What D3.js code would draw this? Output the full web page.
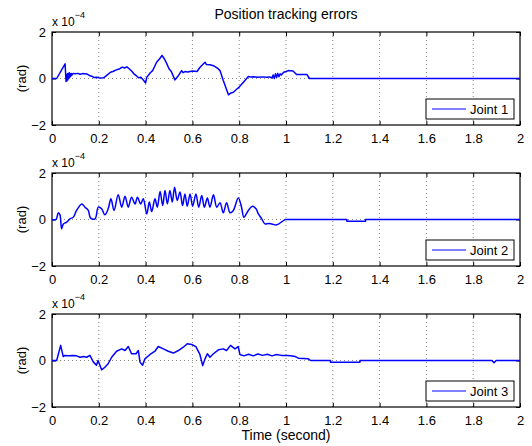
<!DOCTYPE html>
<html>
<head>
<meta charset="utf-8">
<script src="https://d3js.org/d3.v7.min.js"></script>
<style>
  body { margin: 0; background: #fff; }
  text { font-family: "Liberation Sans", Arial, Helvetica, sans-serif; fill: #000; }
</style>
</head>
<body>
<svg width="532" height="446"></svg>
<script>
// values are in units of 1e-4 rad, time in seconds
const joint1 = [[0,0],[0.02,0],[0.056,0.63],[0.06,-0.13],[0.062,0.15],[0.064,-0.1],[0.066,0.2],[0.068,-0.05],[0.07,0.22],[0.072,0.0],[0.074,0.25],[0.076,0.05],[0.078,0.2],[0.08,0.1],[0.082,0.22],[0.085,0.15],[0.09,0.22],[0.1,0.2],[0.11,0.22],[0.12,0.18],[0.13,0.21],[0.14,0.2],[0.15,0.19],[0.16,0.13],[0.17,0.1],[0.18,0.04],[0.19,0.05],[0.2,0.03],[0.21,0.02],[0.22,0.03],[0.23,0.1],[0.25,0.27],[0.26,0.3],[0.28,0.39],[0.29,0.42],[0.30,0.49],[0.31,0.45],[0.32,0.5],[0.33,0.42],[0.34,0.32],[0.35,0.2],[0.36,0.12],[0.37,0.03],[0.38,0.05],[0.39,-0.06],[0.40,-0.19],[0.405,0.05],[0.42,0.25],[0.43,0.34],[0.44,0.55],[0.447,0.7],[0.46,0.85],[0.47,0.99],[0.48,0.85],[0.49,0.65],[0.50,0.42],[0.51,0.3],[0.525,-0.06],[0.54,0.12],[0.554,0.34],[0.56,0.25],[0.568,0.3],[0.58,0.28],[0.6,0.32],[0.62,0.3],[0.63,0.45],[0.64,0.56],[0.654,0.7],[0.66,0.6],[0.675,0.59],[0.69,0.55],[0.70,0.49],[0.71,0.42],[0.718,0.34],[0.732,-0.09],[0.754,-0.7],[0.765,-0.62],[0.775,-0.59],[0.79,-0.45],[0.80,-0.37],[0.818,-0.16],[0.839,0.09],[0.85,0.06],[0.86,0.08],[0.88,0.05],[0.9,0.07],[0.92,0.05],[0.93,0.07],[0.94,0.02],[0.945,0.15],[0.95,0.0],[0.955,0.2],[0.96,0.05],[0.965,0.22],[0.97,0.08],[0.975,0.2],[0.98,0.15],[0.99,0.27],[1.0,0.3],[1.01,0.34],[1.03,0.32],[1.045,0.17],[1.09,0.17],[1.1,0],[2,0]];

const joint2 = [[0,0],[0.017,0],[0.027,0.29],[0.034,0.2],[0.041,-0.4],[0.048,-0.2],[0.063,-0.11],[0.077,0.03],[0.091,0.1],[0.105,0.39],[0.127,0.67],[0.141,0.53],[0.155,0.39],[0.165,0.06],[0.184,0.03],[0.198,0.53],[0.212,0.46],[0.226,0.2],[0.24,0.46],[0.252,0.89],[0.265,0.39],[0.283,1.06],[0.298,0.53],[0.312,1.0],[0.326,0.53],[0.34,0.96],[0.355,0.67],[0.365,0.96],[0.379,0.67],[0.39,0.89],[0.405,0.24],[0.416,0.75],[0.426,0.34],[0.44,0.89],[0.45,0.53],[0.462,1.2],[0.473,0.6],[0.483,1.25],[0.493,0.67],[0.504,1.25],[0.514,0.75],[0.524,1.39],[0.535,0.82],[0.547,1.18],[0.558,0.6],[0.568,1.1],[0.578,0.57],[0.59,1.1],[0.601,0.57],[0.615,1.1],[0.627,0.53],[0.64,1.03],[0.651,0.53],[0.664,0.92],[0.675,0.53],[0.69,1.06],[0.704,0.53],[0.718,0.72],[0.732,0.29],[0.746,0.72],[0.761,0.29],[0.775,0.39],[0.796,0.92],[0.81,0.53],[0.82,0.1],[0.839,0.39],[0.856,0.57],[0.872,0.46],[0.882,0.24],[0.896,0.03],[0.91,-0.19],[0.925,-0.17],[0.939,-0.19],[0.96,-0.23],[0.98,-0.11],[0.996,0],[1.26,0],[1.26,-0.07],[1.34,-0.07],[1.34,0],[2,0]];

const joint3 = [[0,0],[0.02,0],[0.037,0.65],[0.048,0.17],[0.055,0.22],[0.07,0.2],[0.09,0.22],[0.105,0.2],[0.12,0.14],[0.135,0.17],[0.148,0.14],[0.162,0.22],[0.177,-0.07],[0.19,-0.2],[0.197,0.0],[0.212,-0.4],[0.226,-0.29],[0.24,-0.14],[0.255,0.14],[0.276,0.4],[0.298,0.5],[0.312,0.43],[0.326,0.6],[0.34,0.29],[0.359,0.29],[0.369,0.43],[0.376,-0.07],[0.387,-0.2],[0.397,0.07],[0.419,0.26],[0.44,0.4],[0.454,0.6],[0.476,0.5],[0.497,0.4],[0.519,0.32],[0.54,0.43],[0.561,0.57],[0.578,0.72],[0.597,0.69],[0.615,0.6],[0.632,0.26],[0.644,-0.22],[0.654,0.07],[0.664,0.29],[0.675,0.14],[0.69,0.29],[0.711,0.46],[0.732,0.5],[0.746,0.43],[0.763,0.65],[0.782,0.5],[0.796,0.6],[0.803,0.26],[0.82,0.2],[0.84,0.27],[0.86,0.2],[0.88,0.28],[0.9,0.22],[0.92,0.27],[0.94,0.2],[0.96,0.26],[0.98,0.22],[1.003,0.21],[1.02,0.2],[1.04,0.17],[1.053,0.1],[1.095,0.07],[1.105,0],[1.19,0],[1.19,-0.07],[1.316,-0.07],[1.316,0],[1.88,0],[1.889,-0.1],[1.898,0],[2,0]];

const series = [joint1, joint2, joint3];
const legendLabels = ["Joint 1", "Joint 2", "Joint 3"];
const xTicks = [0, 0.2, 0.4, 0.6, 0.8, 1, 1.2, 1.4, 1.6, 1.8, 2];
const yTicks = [-2, 0, 2];
const panelTops = [32, 173, 314];

const svg = d3.select("svg");
const left = 52, right = 520, ph = 93;

const x = d3.scaleLinear().domain([0, 2]).range([left, right]);

svg.append("text")
  .attr("x", (left + right) / 2)
  .attr("y", 19)
  .attr("text-anchor", "middle")
  .style("font-size", "14px")
  .text("Position tracking errors");

series.forEach(function(data, i) {
  const top = panelTops[i];
  const y = d3.scaleLinear().domain([-2, 2]).range([top + ph, top]);
  const g = svg.append("g");

  // dotted grid
  g.selectAll(".vgrid")
    .data(xTicks.slice(1, -1))
    .enter().append("line")
      .attr("x1", d => x(d)).attr("x2", d => x(d))
      .attr("y1", top).attr("y2", top + ph)
      .attr("stroke", "#555").attr("stroke-width", 0.7)
      .attr("stroke-dasharray", "1,3");
  g.append("line")
    .attr("x1", left).attr("x2", right)
    .attr("y1", y(0)).attr("y2", y(0))
    .attr("stroke", "#555").attr("stroke-width", 0.7)
    .attr("stroke-dasharray", "1,3");

  // axes with inward ticks
  const xb = g.append("g").attr("transform", "translate(0," + (top + ph) + ")")
    .call(d3.axisBottom(x).tickValues(xTicks).tickSizeInner(-4).tickSizeOuter(0).tickPadding(6)
      .tickFormat(d3.format("~g")));
  const xt = g.append("g").attr("transform", "translate(0," + top + ")")
    .call(d3.axisTop(x).tickValues(xTicks).tickSizeInner(-4).tickSizeOuter(0).tickFormat(""));
  const yl = g.append("g").attr("transform", "translate(" + left + ",0)")
    .call(d3.axisLeft(y).tickValues(yTicks).tickSizeInner(-4).tickSizeOuter(0).tickPadding(6)
      .tickFormat(d3.format("d")));
  const yr = g.append("g").attr("transform", "translate(" + right + ",0)")
    .call(d3.axisRight(y).tickValues(yTicks).tickSizeInner(-4).tickSizeOuter(0).tickFormat(""));
  [xb, xt, yl, yr].forEach(a => {
    a.select(".domain").remove();
    a.selectAll("text").style("font-size", "13px").attr("font-family", null);
    a.selectAll("line").attr("stroke", "#000");
  });
  xb.selectAll("text").attr("dy", "0.9em");

  // frame
  g.append("rect")
    .attr("x", left).attr("y", top)
    .attr("width", right - left).attr("height", ph)
    .attr("fill", "none").attr("stroke", "#000").attr("stroke-width", 1.2);

  // data line: joint 2 oscillates smoothly before t = 1, rest is straight
  const linear = d3.line().x(d => x(d[0])).y(d => y(d[1]));
  const smooth = d3.line().x(d => x(d[0])).y(d => y(d[1])).curve(d3.curveCatmullRom.alpha(0.5));
  const parts = i === 1
    ? [[data.filter(d => d[0] <= 0.996), smooth], [data.filter(d => d[0] >= 0.996), linear]]
    : [[data, linear]];
  parts.forEach(function(p) {
    g.append("path")
      .datum(p[0])
      .attr("d", p[1])
      .attr("fill", "none")
      .attr("stroke", "#0000ff")
      .attr("stroke-width", 1.5)
      .attr("stroke-linejoin", "round");
  });

  // exponent label
  const ex = g.append("text").attr("x", left).attr("y", top - 6).style("font-size", "12px");
  ex.append("tspan").text("x 10");
  ex.append("tspan").attr("dy", -8).style("font-size", "9px").text("\u22124");

  // y label
  g.append("text")
    .attr("transform", "translate(26," + (top + ph / 2) + ") rotate(-90)")
    .attr("text-anchor", "middle")
    .style("font-size", "13px")
    .text("(rad)");

  // legend
  const lx = 426, ly = top + ph - 26, lw = 88, lh = 20;
  g.append("rect")
    .attr("x", lx).attr("y", ly).attr("width", lw).attr("height", lh)
    .attr("fill", "#fff").attr("stroke", "#000").attr("stroke-width", 1);
  g.append("line")
    .attr("x1", lx + 6).attr("x2", lx + 40)
    .attr("y1", ly + lh / 2).attr("y2", ly + lh / 2)
    .attr("stroke", "#0000ff").attr("stroke-width", 1);
  g.append("text")
    .attr("x", lx + 44).attr("y", ly + lh / 2 + 5)
    .style("font-size", "13px")
    .text(legendLabels[i]);
});

svg.append("text")
  .attr("x", (left + right) / 2)
  .attr("y", 440)
  .attr("text-anchor", "middle")
  .style("font-size", "14px")
  .text("Time (second)");
</script>
</body>
</html>
